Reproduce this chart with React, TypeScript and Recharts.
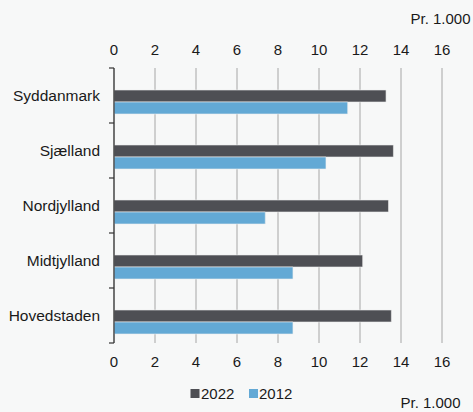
import { BarChart, Bar, XAxis, YAxis, CartesianGrid, ReferenceLine } from "recharts";

const regions = ["Syddanmark", "Sjælland", "Nordjylland", "Midtjylland", "Hovedstaden"];
const values2022 = [13.27, 13.63, 13.39, 12.13, 13.53];
const values2012 = [11.4, 10.34, 7.38, 8.73, 8.73];
// the source chart has an empty third series, which pushes the two bars below the band centre
const emptySeries = [null, null, null, null, null];
const xTicks = [0, 2, 4, 6, 8, 10, 12, 14, 16];
const unitLabel = "Pr. 1.000";
const seriesNames = ["2022", "2012"];

const DARK = "#4e4f54";
const BLUE = "#63a9d5";
const AXIS = "#333333";
const TEXT = "#1a1a1a";
const FONT = "'Liberation Sans', Arial, sans-serif";

const rows = regions.map((region, i) => ({
  region,
  blank: emptySeries[i],
  v2022: values2022[i],
  v2012: values2012[i],
}));

const tickStyle = { fill: TEXT, fontSize: 15, fontFamily: FONT };

// category label at the band centre, plus a short tick mark at the band edges
function RegionTick(props: any) {
  const { x, y, payload, index } = props;
  const half = payload?.offset ?? 0;
  return (
    <g>
      <line x1={x + 9} x2={x + 14} y1={y - half} y2={y - half} stroke={AXIS} strokeWidth={1.2} />
      {index === regions.length - 1 && (
        <line x1={x + 9} x2={x + 14} y1={y + half} y2={y + half} stroke={AXIS} strokeWidth={1.2} />
      )}
      <text x={x} y={y} dy="0.36em" textAnchor="end" fill={TEXT} fontFamily={FONT} fontSize={15.5}>
        {payload.value}
      </text>
    </g>
  );
}

export default function App() {
  return (
    <div style={{ position: "relative", width: 473, height: 412, background: "#f7f8f8", overflow: "hidden" }}>
      <style>{"body{margin:0}"}</style>
      <BarChart
        layout="vertical"
        width={473}
        height={412}
        data={rows}
        margin={{ top: 28, right: 31, bottom: 39, left: 0 }}
        barSize={12}
        barGap={0}
      >
        <CartesianGrid horizontal={false} stroke="#a6a6a6" />
        <XAxis
          type="number"
          domain={[0, 16]}
          ticks={xTicks}
          axisLine={false}
          tickLine={false}
          tickSize={0}
          tickMargin={13}
          height={30}
          tick={tickStyle}
        />
        <XAxis
          xAxisId="top"
          orientation="top"
          type="number"
          domain={[0, 16]}
          ticks={xTicks}
          axisLine={false}
          tickLine={false}
          tickSize={0}
          tickMargin={13}
          height={40}
          tick={tickStyle}
        />
        <YAxis
          type="category"
          dataKey="region"
          width={114}
          interval={0}
          axisLine={false}
          tickLine={false}
          tickSize={0}
          tickMargin={14}
          tick={<RegionTick />}
        />
        <ReferenceLine x={0} stroke={AXIS} strokeWidth={1.2} />
        <Bar dataKey="blank" legendType="none" isAnimationActive={false} />
        <Bar dataKey="v2022" xAxisId="top" name={seriesNames[0]} fill={DARK} stroke="#eeeeee" strokeWidth={0.6} isAnimationActive={false} />
        <Bar dataKey="v2012" name={seriesNames[1]} fill={BLUE} stroke="#eeeeee" strokeWidth={0.6} isAnimationActive={false} />
      </BarChart>
      <svg width={473} height={412} style={{ position: "absolute", left: 0, top: 0, pointerEvents: "none" }}>
        <text x={470.5} y={24} textAnchor="end" {...tickStyle}>{unitLabel}</text>
        <text x={460.5} y={408} textAnchor="end" {...tickStyle}>{unitLabel}</text>
        <rect x={190.5} y={389} width={9} height={9} fill={DARK} />
        <text x={201} y={398.5} {...tickStyle}>{seriesNames[0]}</text>
        <rect x={249} y={389} width={9} height={9} fill={BLUE} />
        <text x={259} y={398.5} {...tickStyle}>{seriesNames[1]}</text>
      </svg>
    </div>
  );
}
